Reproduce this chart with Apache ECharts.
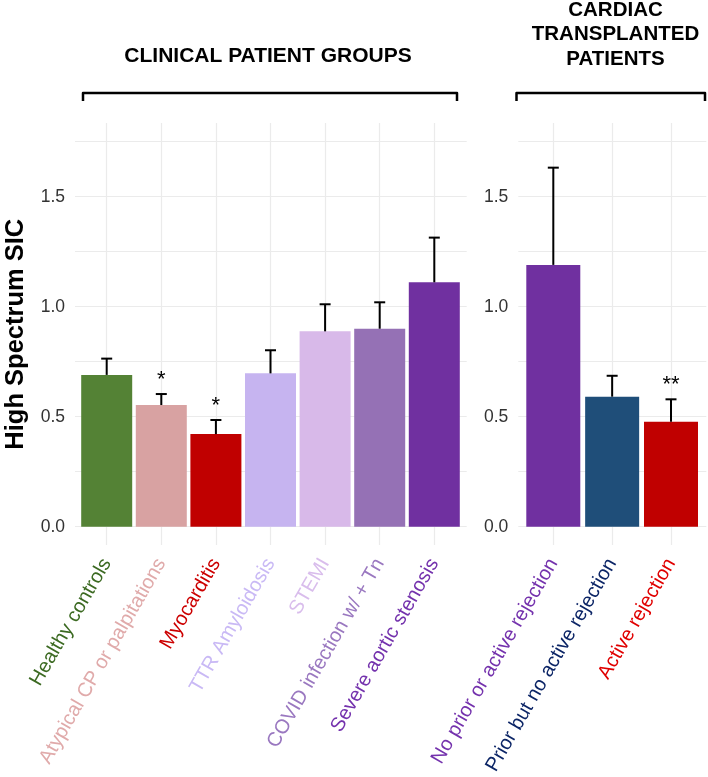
<!DOCTYPE html>
<html>
<head>
<meta charset="utf-8">
<script src="https://cdn.jsdelivr.net/npm/echarts@6/dist/echarts.min.js"></script>
<style>
html,body{margin:0;padding:0;background:#fff;}
#chart{width:708px;height:777px;}
</style>
</head>
<body>
<div id="chart"></div>
<script>
// ---------- data ----------
var clinicalCategories = ['Healthy controls', 'Atypical CP or palpitations', 'Myocarditis', 'TTR Amyloidosis', 'STEMI', 'COVID infection w/ + Tn', 'Severe aortic stenosis'];
var clinicalMeans = [0.69, 0.553, 0.421, 0.697, 0.888, 0.90, 1.111];
var clinicalUpper = [0.764, 0.603, 0.485, 0.802, 1.011, 1.020, 1.314];
var clinicalStars = ['', '*', '*', '', '', '', ''];
var clinicalBarColors = ['#548235', '#d8a2a2', '#c00000', '#c6b4f0', '#d8b9e9', '#9571b5', '#7030a0'];
var clinicalLabelColors = ['#3c6a22', '#e0aaaa', '#cc0000', '#c9b9f5', '#d9bdec', '#9a78c0', '#7432ad'];

var transplantCategories = ['No prior or active rejection', 'Prior but no active rejection', 'Active rejection'];
var transplantMeans = [1.19, 0.591, 0.477];
var transplantUpper = [1.632, 0.686, 0.579];
var transplantStars = ['', '', '**'];
var transplantBarColors = ['#7030a0', '#1f4e79', '#c00000'];
var transplantLabelColors = ['#7432ad', '#0c2566', '#e00000'];

var yTickLabels = ['0.0', '0.5', '1.0', '1.5'];
var yAxisTitle = 'High Spectrum SIC';
var groupTitles = ['CLINICAL PATIENT GROUPS', 'CARDIAC', 'TRANSPLANTED', 'PATIENTS'];

// ---------- chart ----------
var FONT = "'Liberation Sans', Arial, Helvetica, sans-serif";
var chart = echarts.init(document.getElementById('chart'), null, {renderer: 'canvas'});

var gridColor = '#ebebeb';
var splitColors = ['rgba(0,0,0,0)', gridColor, gridColor, gridColor, gridColor, gridColor, gridColor, gridColor, gridColor, 'rgba(0,0,0,0)'];

function tickFormatter(v) {
  var s = v.toFixed(1);
  if (Math.abs(v * 2 - Math.round(v * 2)) < 1e-6 && yTickLabels.indexOf(s) >= 0) return s;
  return '';
}

function panelYAxis(gridIndex, withName) {
  var ax = {
    type: 'value', gridIndex: gridIndex, min: -0.25, max: 2.0, interval: 0.25,
    axisLine: {show: false}, axisTick: {show: false},
    axisLabel: {formatter: tickFormatter, fontSize: 17.5, color: '#333333', fontFamily: FONT, margin: 10},
    splitLine: {show: true, lineStyle: {color: splitColors, width: 1.2}}
  };
  if (withName) {
    ax.name = yAxisTitle;
    ax.nameLocation = 'middle';
    ax.nameGap = 46;
    ax.nameMoveOverlap = false;
    ax.nameTextStyle = {fontSize: 25.5, fontWeight: 'bold', color: '#000', fontFamily: FONT};
  }
  return ax;
}

function hiddenY(gridIndex) {
  return {type: 'value', gridIndex: gridIndex, min: -0.0832, max: 1.835, show: false, splitLine: {show: false}};
}

function catAxis(gridIndex, cats, colors) {
  return {
    type: 'category', gridIndex: gridIndex, data: cats, boundaryGap: false,
    axisLine: {show: false}, axisTick: {show: false},
    splitLine: {show: true, interval: 0, lineStyle: {color: gridColor, width: 1.2}},
    axisLabel: {
      interval: 0, rotate: 60, margin: 15, fontSize: 20, fontFamily: FONT,
      color: function (value, index) { return colors[index]; }
    }
  };
}

function errRender(upper, stars) {
  return function (params, api) {
    var i = params.dataIndex;
    var base = api.coord([i, api.value(1)]);
    var top = api.coord([i, upper[i]]);
    var children = [
      {type: 'line', shape: {x1: base[0], y1: base[1], x2: top[0], y2: top[1]}, style: {stroke: '#000', lineWidth: 2}},
      {type: 'line', shape: {x1: top[0] - 5.5, y1: top[1], x2: top[0] + 5.5, y2: top[1]}, style: {stroke: '#000', lineWidth: 2}}
    ];
    if (stars[i]) {
      children.push({type: 'text', x: top[0], y: top[1] - 14,
        style: {text: stars[i], fill: '#000', font: '22px ' + FONT, align: 'center', verticalAlign: 'middle'}});
    }
    return {type: 'group', children: children};
  };
}

function barData(vals, colors) {
  return vals.map(function (v, i) { return {value: v, itemStyle: {color: colors[i]}}; });
}

function g(l, t, w, h) {
  return {left: l, top: t, width: w, height: h, containLabel: false, outerBoundsMode: 'none'};
}

var option = {
  animation: false,
  backgroundColor: '#fff',
  grid: [
    g(75, 86.7, 391.7, 495),
    g(106.7, 123, 327.6, 422),
    g(518.3, 86.7, 188, 495),
    g(553.3, 123, 117.7, 422)
  ],
  xAxis: [
    {type: 'value', gridIndex: 0, show: false, splitLine: {show: false}},
    catAxis(1, clinicalCategories, clinicalLabelColors),
    {type: 'value', gridIndex: 2, show: false, splitLine: {show: false}},
    catAxis(3, transplantCategories, transplantLabelColors)
  ],
  yAxis: [
    panelYAxis(0, true),
    hiddenY(1),
    panelYAxis(2, false),
    hiddenY(3)
  ],
  series: [
    {type: 'bar', xAxisIndex: 1, yAxisIndex: 1, barWidth: 51, clip: false,
     data: barData(clinicalMeans, clinicalBarColors)},
    {type: 'custom', xAxisIndex: 1, yAxisIndex: 1, clip: false,
     data: clinicalMeans.map(function (m, i) { return [i, m]; }),
     encode: {x: 0, y: 1}, renderItem: errRender(clinicalUpper, clinicalStars), z: 5},
    {type: 'bar', xAxisIndex: 3, yAxisIndex: 3, barWidth: 54, clip: false,
     data: barData(transplantMeans, transplantBarColors)},
    {type: 'custom', xAxisIndex: 3, yAxisIndex: 3, clip: false,
     data: transplantMeans.map(function (m, i) { return [i, m]; }),
     encode: {x: 0, y: 1}, renderItem: errRender(transplantUpper, transplantStars), z: 5}
  ],
  graphic: [
    {type: 'text', x: 268, y: 56.5, style: {text: groupTitles[0], font: 'bold 21px ' + FONT, fill: '#000', align: 'center', verticalAlign: 'middle'}},
    {type: 'text', x: 615.5, y: 10.2, style: {text: groupTitles[1], font: 'bold 20.5px ' + FONT, fill: '#000', align: 'center', verticalAlign: 'middle'}},
    {type: 'text', x: 615.5, y: 34.8, style: {text: groupTitles[2], font: 'bold 20.5px ' + FONT, fill: '#000', align: 'center', verticalAlign: 'middle'}},
    {type: 'text', x: 615.5, y: 59.5, style: {text: groupTitles[3], font: 'bold 20.5px ' + FONT, fill: '#000', align: 'center', verticalAlign: 'middle'}},
    {type: 'polyline', shape: {points: [[83, 101], [83, 93], [457, 93], [457, 101]]}, style: {stroke: '#000', lineWidth: 2.5, fill: null, lineJoin: 'round'}},
    {type: 'polyline', shape: {points: [[516.5, 101], [516.5, 93], [705, 93], [705, 101]]}, style: {stroke: '#000', lineWidth: 2.5, fill: null, lineJoin: 'round'}}
  ]
};
chart.setOption(option);
</script>
</body>
</html>
